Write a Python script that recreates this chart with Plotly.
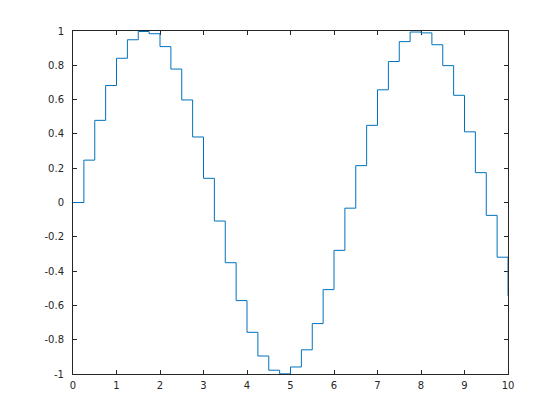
import plotly.graph_objects as go

x_vals = [0, 0.25, 0.5, 0.75, 1, 1.25, 1.5, 1.75, 2, 2.25, 2.5, 2.75, 3, 3.25, 3.5, 3.75,
          4, 4.25, 4.5, 4.75, 5, 5.25, 5.5, 5.75, 6, 6.25, 6.5, 6.75, 7, 7.25, 7.5, 7.75,
          8, 8.25, 8.5, 8.75, 9, 9.25, 9.5, 9.75, 10]
y_vals = [0.0, 0.247, 0.479, 0.682, 0.841, 0.949, 0.997, 0.984, 0.909, 0.778, 0.598, 0.382,
          0.141, -0.108, -0.351, -0.572, -0.757, -0.895, -0.978, -0.999, -0.959, -0.859,
          -0.706, -0.508, -0.279, -0.033, 0.215, 0.450, 0.657, 0.822, 0.938, 0.994, 0.989,
          0.920, 0.798, 0.625, 0.412, 0.174, -0.075, -0.319, -0.544]

x_ticks = [0, 1, 2, 3, 4, 5, 6, 7, 8, 9, 10]
x_tick_text = ["0", "1", "2", "3", "4", "5", "6", "7", "8", "9", "10"]
y_ticks = [-1, -0.8, -0.6, -0.4, -0.2, 0, 0.2, 0.4, 0.6, 0.8, 1]
y_tick_text = ["-1", "-0.8", "-0.6", "-0.4", "-0.2", "0", "0.2", "0.4", "0.6", "0.8", "1"]

fig = go.Figure()
fig.add_trace(go.Scatter(x=x_vals, y=y_vals, mode="lines", cliponaxis=False,
                         line=dict(shape="hv", color="#0072BD", width=1)))

axis_common = dict(showgrid=False, zeroline=False, showline=True, mirror="ticks",
                   linecolor="#262626", linewidth=1, ticks="inside", ticklen=4,
                   tickcolor="#262626", tickwidth=1, layer="below traces",
                   tickfont=dict(family="DejaVu Sans", size=10, color="#262626"))

fig.update_xaxes(range=[0, 10], tickvals=x_ticks, ticktext=x_tick_text,
                 ticklabelstandoff=2, **axis_common)
fig.update_yaxes(range=[-1, 1], tickvals=y_ticks, ticktext=y_tick_text,
                 ticklabelstandoff=6, **axis_common)

fig.update_layout(width=560, height=420, margin=dict(l=65, r=60, t=23, b=54),
                  paper_bgcolor="white", plot_bgcolor="white", showlegend=False)

fig.write_html("out.html")
